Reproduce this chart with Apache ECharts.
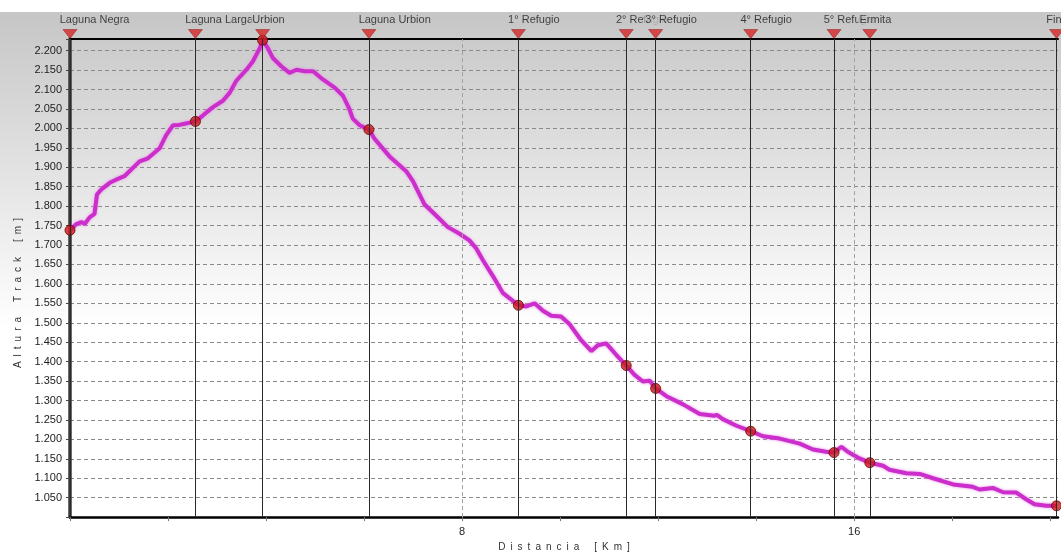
<!DOCTYPE html>
<html>
<head>
<meta charset="utf-8">
<script src="https://cdn.jsdelivr.net/npm/echarts@6/dist/echarts.min.js"></script>
<style>
html,body{margin:0;padding:0;background:#fff;overflow:hidden;}
#chart{width:1061px;height:557px;}
</style>
</head>
<body>
<div id="chart"></div>
<script>
// Profile track: distance (km) and altitude (m)
const distKm = [0, 0.13, 0.23, 0.30, 0.40, 0.50, 0.55, 0.64, 0.81, 0.94, 1.11, 1.42, 1.59, 1.83, 1.96, 2.10, 2.23, 2.34, 2.56,
  2.71, 2.91, 3.12, 3.26, 3.39, 3.60, 3.73, 3.87, 3.93, 4.04, 4.14, 4.31, 4.48, 4.62, 4.79, 4.96, 5.16, 5.40, 5.57, 5.70, 5.77, 5.91, 6.10,
  6.21, 6.52, 6.86, 7.00, 7.23, 7.47, 7.71, 7.95, 8.15, 8.29, 8.42, 8.63, 8.83, 9.15, 9.31, 9.48, 9.65, 9.82, 10.02, 10.19, 10.43, 10.64,
  10.77, 10.94, 11.15, 11.35, 11.52, 11.69, 11.83, 11.95, 12.17, 12.51, 12.85, 13.15, 13.20, 13.32, 13.60, 13.89, 14.14, 14.48, 14.89,
  15.16, 15.43, 15.59, 15.74, 15.87, 16.11, 16.32, 16.59, 16.72, 17.07, 17.34, 17.61, 18.02, 18.42, 18.56, 18.83, 19.04, 19.31, 19.51,
  19.68, 19.92, 20.13];
const altM = [1738, 1754, 1759, 1754, 1771, 1780, 1830, 1843, 1860, 1868, 1877, 1915, 1923, 1949, 1982, 2008, 2009, 2012, 2018,
  2033, 2054, 2071, 2092, 2122, 2151, 2172, 2206, 2227, 2206, 2181, 2160, 2143, 2151, 2147, 2147, 2126, 2105, 2084, 2050, 2025, 2008, 1997,
  1974, 1928, 1890, 1864, 1805, 1776, 1746, 1729, 1712, 1691, 1662, 1620, 1577, 1545, 1542, 1550, 1531, 1518, 1516, 1497, 1455, 1427,
  1442, 1447, 1417, 1390, 1366, 1349, 1351, 1331, 1311, 1290, 1265, 1261, 1263, 1252, 1235, 1221, 1208, 1202, 1189,
  1174, 1168, 1166, 1181, 1168, 1151, 1140, 1132, 1122, 1113, 1111, 1100, 1084, 1078, 1071, 1075, 1064, 1063, 1046,
  1033, 1029, 1029];

// Waypoints
const wpNames = ['Laguna Negra', 'Laguna Larga', 'Urbion', 'Laguna Urbion', '1° Refugio', '2° Refugio', '3° Refugio', '4° Refugio', '5° Refugio', 'Ermita', 'Fin'];
const wpKm = [0, 2.56, 3.93, 6.10, 9.15, 11.35, 11.95, 13.89, 15.59, 16.32, 20.13];
const wpAlt = [1738, 2018, 2227, 1997, 1545, 1390, 1331, 1221, 1166, 1140, 1029];

// Axis ticks
const xLabelKm = [8, 16];
const yMin = 1000, yMax = 2230, yStep = 50;
const xMin = 0, xMax = 20.16, xStep = 2;

const chart = echarts.init(document.getElementById('chart'));
const font = 'Liberation Sans, Arial, sans-serif';
const spaced = s => s.split(' ').map(w => w.split('').join('\u2002')).join('\u2002\u2002\u2002');

const option = {
  animation: false,
  backgroundColor: '#ffffff',
  graphic: [{
    type: 'rect', z: -100, silent: true,
    shape: {x: 0, y: 12, width: 1061, height: 545},
    style: {fill: new echarts.graphic.LinearGradient(0, 0, 0, 1, [
      {offset: 0, color: '#c6c6c6'},
      {offset: 0.58, color: '#ffffff'},
      {offset: 1, color: '#ffffff'}
    ])}
  }],
  grid: {left: 70, right: 3, top: 39, bottom: 32, containLabel: false},
  xAxis: [{
    type: 'value', min: xMin, max: xMax, interval: xStep,
    name: spaced('Distancia [Km]'), nameLocation: 'middle', nameGap: 20,
    nameTextStyle: {fontFamily: font, fontSize: 10, color: '#333'},
    axisLine: {show: true, onZero: false, lineStyle: {color: '#000', width: 2.5}},
    axisTick: {show: true, length: 4, lineStyle: {color: '#777', width: 1}},
    axisLabel: {fontFamily: font, fontSize: 11, color: '#222', margin: 9,
      showMaxLabel: false,
      formatter: v => xLabelKm.includes(v) ? String(v) : ''},
    splitLine: {show: false}
  }, {
    type: 'value', min: xMin, max: xMax, position: 'top',
    axisLine: {show: true, onZero: false, lineStyle: {color: '#000', width: 2}},
    axisTick: {show: false}, axisLabel: {show: false}, splitLine: {show: false}
  }],
  yAxis: {
    type: 'value', min: yMin, max: yMax, interval: yStep,
    name: spaced('Altura Track [m]'), nameLocation: 'middle', nameGap: 40,
    nameTextStyle: {fontFamily: font, fontSize: 10, color: '#333', padding: [0, 30, 0, 0]},
    axisLine: {show: true, onZero: false, lineStyle: {color: '#3a3a3a', width: 3.5}},
    axisTick: {show: true, length: 4, lineStyle: {color: '#444', width: 1}},
    axisLabel: {fontFamily: font, fontSize: 11, color: '#222', margin: 8,
      formatter: v => (v <= yMin || v >= yMax) ? '' : (v / 1000).toFixed(3)},
    splitLine: {show: true, lineStyle: {color: '#8a8a8a', width: 1, type: [4, 3]}}
  },
  series: [
    {
      name: 'grid8', type: 'scatter', data: [], silent: true, z: 1,
      markLine: {
        silent: true, symbol: ['none', 'none'], label: {show: false},
        lineStyle: {color: '#a0a0a0', width: 1, type: [4, 3]},
        data: xLabelKm.map(k => ({xAxis: k}))
      }
    },
    {
      name: 'wpLines', type: 'scatter', data: [], silent: true, z: 1,
      markLine: {
        silent: true, symbol: ['none', 'none'], label: {show: false},
        lineStyle: {color: '#2a2a2a', width: 1, type: 'solid'},
        data: wpKm.map(k => ({xAxis: k}))
      }
    },
    {
      name: 'profile', type: 'line', z: 3,
      data: distKm.map((d, i) => [d, altM[i]]),
      showSymbol: false, smooth: false,
      lineStyle: {color: '#cc2ecc', width: 4, shadowColor: '#e68ae6', shadowBlur: 3}
    },
    {
      name: 'wpDots', type: 'scatter', z: 4,
      data: wpKm.map((k, i) => [k, wpAlt[i]]),
      symbol: 'circle', symbolSize: 10, clip: false,
      itemStyle: {color: '#cc1a1a', borderColor: '#6a0000', borderWidth: 1}
    },
    {
      name: 'wpMarks', type: 'scatter', z: 5, clip: false,
      data: wpKm.map((k, i) => ({value: [k, yMax], name: wpNames[i]})),
      symbol: 'path://M0,0 L14,0 L7,9 Z', symbolSize: [14, 9], symbolOffset: [0, -5],
      itemStyle: {color: '#d42626', borderColor: '#8a0000', borderWidth: 0.5},
      label: {
        show: true, position: [-4, -4], align: 'left', verticalAlign: 'bottom',
        formatter: p => p.name,
        fontFamily: font, fontSize: 11, color: '#1a1a1a',
        backgroundColor: '#c7c7c7', padding: [1, 1, 0, 1]
      },
      labelLayout: {hideOverlap: false}
    }
  ]
};
chart.setOption(option);
</script>
</body>
</html>
